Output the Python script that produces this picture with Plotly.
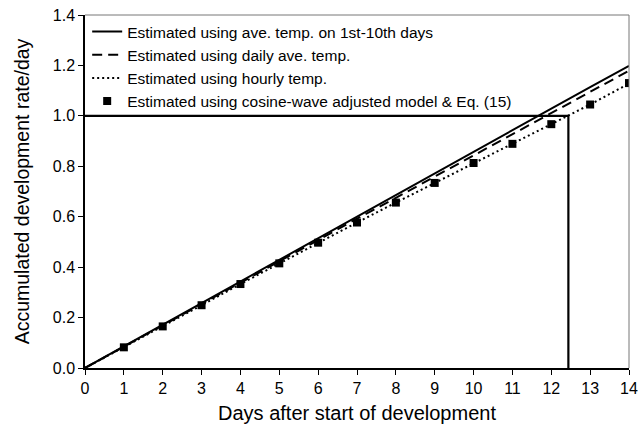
import plotly.graph_objects as go

days = list(range(0, 15))
solid_vals = [0, 0.086, 0.171, 0.257, 0.343, 0.429, 0.514, 0.600, 0.686, 0.771, 0.857, 0.943, 1.029, 1.114, 1.198]
dashed_vals = [0, 0.085, 0.170, 0.255, 0.340, 0.424, 0.508, 0.592, 0.675, 0.759, 0.843, 0.927, 1.011, 1.095, 1.179]
dotted_vals = [0, 0.082, 0.165, 0.249, 0.333, 0.415, 0.497, 0.577, 0.656, 0.734, 0.813, 0.889, 0.967, 1.045, 1.128]
sq_days = list(range(1, 15))
sq_vals = [0.082, 0.165, 0.249, 0.333, 0.415, 0.497, 0.577, 0.656, 0.734, 0.813, 0.889, 0.967, 1.045, 1.130]
threshold_x = [0, 12.44, 12.44]
threshold_y = [1.0, 1.0, 0.0]

names = ["Estimated using ave. temp. on 1st-10th days",
         "Estimated using daily ave. temp.",
         "Estimated using hourly temp.",
         "Estimated using cosine-wave adjusted model & Eq. (15)"]

fig = go.Figure()
fig.add_trace(go.Scatter(x=threshold_x, y=threshold_y, mode="lines",
                         line=dict(color="black", width=2.2), showlegend=False))
fig.add_trace(go.Scatter(x=days, y=solid_vals, mode="lines", name=names[0],
                         line=dict(color="black", width=2)))
fig.add_trace(go.Scatter(x=days, y=dashed_vals, mode="lines", name=names[1],
                         line=dict(color="black", width=2, dash="10px,6px")))
fig.add_trace(go.Scatter(x=days, y=dotted_vals, mode="lines", name=names[2],
                         line=dict(color="black", width=2, dash="2px,3px")))
fig.add_trace(go.Scatter(x=sq_days, y=sq_vals, mode="markers", name=names[3],
                         marker=dict(symbol="square", size=8, color="black")))

font = "Liberation Sans, Arial, sans-serif"
fig.update_layout(
    width=638, height=431,
    margin=dict(l=85, r=9, t=15, b=63),
    paper_bgcolor="white", plot_bgcolor="white",
    font=dict(family=font, color="black", size=16),
    legend=dict(x=0.004, y=1.0, xanchor="left", yanchor="top",
                font=dict(size=15.5), bgcolor="rgba(0,0,0,0)",
                tracegroupgap=0, itemwidth=30),
    xaxis=dict(range=[0, 14], dtick=1, tick0=0, showgrid=False, zeroline=False,
               automargin=False,
               showline=True, linecolor="black", linewidth=1.5,
               ticks="outside", ticklen=5, tickcolor="black",
               tickfont=dict(size=16),
               title=dict(text="Days after start of development", font=dict(size=20), standoff=10)),
    yaxis=dict(range=[0, 1.4], dtick=0.2, tick0=0, tickformat=".1f", showgrid=False, zeroline=False,
               automargin=False,
               showline=True, linecolor="black", linewidth=1.5,
               ticks="outside", ticklen=5, tickcolor="black",
               tickfont=dict(size=16),
               title=dict(text="Accumulated development rate/day", font=dict(size=19.5), standoff=18)),
    shapes=[
        dict(type="line", xref="paper", yref="paper", x0=0, x1=1, y0=1, y1=1,
             line=dict(color="#777777", width=1)),
        dict(type="line", xref="paper", yref="paper", x0=1, x1=1, y0=0, y1=1,
             line=dict(color="#777777", width=1)),
    ],
)

fig.write_html("out.html")
